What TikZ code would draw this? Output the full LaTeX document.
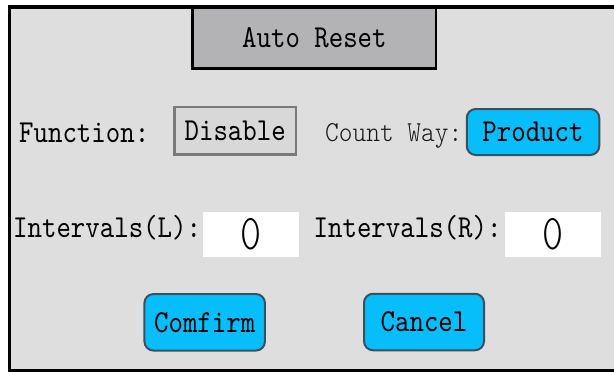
\documentclass[tikz,border=0pt]{standalone}
\usepackage{fontspec}
\newfontfamily\uifont[FakeStretch=0.86]{lmmono10-regular.otf}
\newfontfamily\uifontb[FakeStretch=0.9]{lmmonolt10-regular.otf}
\newfontfamily\uifontc[FakeStretch=0.8]{lmmonolt10-regular.otf}
\definecolor{panelbg}{RGB}{222,222,222}
\definecolor{titlegray}{RGB}{179,178,180}
\definecolor{btnblue}{RGB}{8,190,250}
\definecolor{btnedge}{RGB}{58,80,96}
\definecolor{disfill}{RGB}{216,216,216}
\definecolor{disedge}{RGB}{122,122,122}
\definecolor{waygray}{RGB}{25,25,25}
\tikzset{
  uitext/.style={font=\uifont\fontsize{32}{32}\selectfont},
  lbl/.style={uitext, anchor=base west, inner sep=0pt},
  titlebox/.style={uitext, draw=black, line width=2.5pt, fill=titlegray, inner sep=0pt},
  blubtn/.style={uitext, draw=btnedge, line width=2pt, fill=btnblue, rounded corners=9pt, inner sep=0pt},
  disbtn/.style={uitext, draw=disedge, line width=2.5pt, fill=disfill, inner sep=0pt},
  valbox/.style={font=\uifontc\fontsize{50}{50}\selectfont, fill=white, inner sep=0pt},
}
\begin{document}
\begin{tikzpicture}[x=1pt,y=-1pt]
\useasboundingbox (0,0) rectangle (614,372);
\fill[white] (0,0) rectangle (614,372);
\fill[panelbg] (9.5,6.75) rectangle (614,370.5);
% title tab
\node[titlebox, minimum width=243.5pt, minimum height=61.5pt] (title) at (314.4,37.5) {Auto Reset};
% frame
\draw[line width=3.5pt] (9.5,372) -- (9.5,6.75) -- (614,6.75);
\draw[line width=3.5pt] (8,370.5) -- (614,370.5);
% row 1
\node[lbl] (func) at (19,142) {Function:};
\node[disbtn, minimum width=121.5pt, minimum height=47.5pt] (disable) at (235.2,130.5) {Disable};
\node[lbl, font=\uifontb\fontsize{29}{29}\selectfont, text=waygray] (way) at (325,141) {Count Way:};
\node[blubtn, minimum width=132.5pt, minimum height=46pt] (product) at (533,132) {Product};
% row 2
\node[lbl] (intl) at (13,237) {Intervals(L):};
\node[valbox, minimum width=96pt, minimum height=44.5pt] (boxl) at (251.3,234.5) {0};
\node[lbl] (intr) at (313.5,237) {Intervals(R):};
\node[valbox, minimum width=96pt, minimum height=44.5pt] (boxr) at (553,234.5) {0};
% buttons
\node[blubtn, minimum width=120.5pt, minimum height=56.5pt] (confirm) at (204.7,322.3) {Comfirm};
\node[blubtn, minimum width=120pt, minimum height=56.5pt] (cancel) at (424,322) {Cancel};
\end{tikzpicture}
\end{document}
